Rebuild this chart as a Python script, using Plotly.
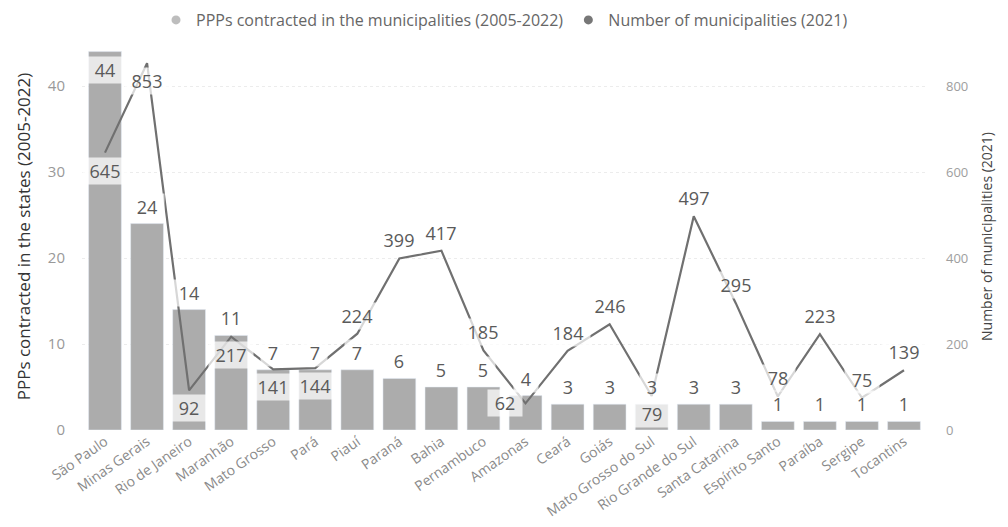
import plotly.graph_objects as go

# States ordered by number of PPPs contracted
states = [
    "São Paulo", "Minas Gerais", "Rio de Janeiro", "Maranhão", "Mato Grosso",
    "Pará", "Piauí", "Paraná", "Bahia", "Pernambuco", "Amazonas", "Ceará",
    "Goiás", "Mato Grosso do Sul", "Rio Grande do Sul", "Santa Catarina",
    "Espírito Santo", "Paraíba", "Sergipe", "Tocantins",
]
ppps = [44, 24, 14, 11, 7, 7, 7, 6, 5, 5, 4, 3, 3, 3, 3, 3, 1, 1, 1, 1]
municipalities = [645, 853, 92, 217, 141, 144, 224, 399, 417, 185, 62, 184,
                  246, 79, 497, 295, 78, 223, 75, 139]

bar_name = "PPPs contracted in the municipalities (2005-2022)"
line_name = "Number of municipalities (2021)"

# label placement for each series (kept apart from the values)
bar_label_side = ["inside"] + ["above"] * 19
line_label_side = ["below"] * 6 + ["above"] * 4 + ["left"] + ["above"] * 2 + \
                  ["below"] + ["above"] * 6

FONT = "Open Sans"
BAR_COLOR = "#acacac"
LINE_COLOR = "#707070"
LABEL_COLOR = "#5a5a5a"
LABEL_BG = "rgba(255,255,255,0.72)"

fig = go.Figure()

fig.add_trace(go.Bar(
    x=states, y=ppps, name=bar_name, marker_color=BAR_COLOR,
    showlegend=False, yaxis="y", hoverinfo="x+y",
))
fig.add_trace(go.Scatter(
    x=states, y=municipalities, name=line_name, mode="lines",
    line=dict(color=LINE_COLOR, width=2.2), yaxis="y2", showlegend=False,
))

# legend entries drawn as round dots
fig.add_trace(go.Scatter(
    x=[None], y=[None], mode="markers", name=bar_name,
    marker=dict(symbol="circle", size=9, color="#bdbdbd"),
))
fig.add_trace(go.Scatter(
    x=[None], y=[None], mode="markers", name=line_name,
    marker=dict(symbol="circle", size=9, color="#777777"),
))

annotations = []
for s, v, side in zip(states, ppps, bar_label_side):
    annotations.append(dict(
        x=s, y=v, xref="x", yref="y", text=str(v), showarrow=False,
        yshift=17 if side == "above" else -18,
        font=dict(family=FONT, size=18, color=LABEL_COLOR),
        bgcolor=LABEL_BG, borderpad=1, width=10 * len(str(v)) + 12,
    ))
for s, v, side in zip(states, municipalities, line_label_side):
    a = dict(
        x=s, y=v, xref="x", yref="y2", text=str(v), showarrow=False,
        font=dict(family=FONT, size=18, color=LABEL_COLOR),
        bgcolor=LABEL_BG, borderpad=1, width=10 * len(str(v)) + 12,
    )
    if side == "above":
        a["yshift"] = 18
    elif side == "below":
        a["yshift"] = -18
    else:
        a["xanchor"] = "right"
        a["xshift"] = -3
    annotations.append(a)

fig.update_layout(
    width=1008, height=527,
    margin=dict(l=82, r=81, t=43, b=97, autoexpand=False),
    paper_bgcolor="white", plot_bgcolor="white",
    font=dict(family=FONT, color="#666666"),
    bargap=0.22,
    showlegend=True,
    legend=dict(
        orientation="h", x=0.5, xanchor="center",
        yref="container", y=0.962, yanchor="middle",
        font=dict(family=FONT, size=16, color="#666666"),
        itemwidth=30, tracegroupgap=0,
    ),
    xaxis=dict(
        tickangle=-35, tickfont=dict(family=FONT, size=14, color="#8a8a8a"),
        showgrid=False, showline=False, zeroline=False, automargin=False,
    ),
    yaxis=dict(
        range=[0, 45], tickvals=[0, 10, 20, 30, 40],
        tickfont=dict(family=FONT, size=15, color="#999999"),
        ticklabelstandoff=16, automargin=False,
        showgrid=True, gridcolor="#ececec", griddash="dot", gridwidth=1,
        zeroline=False, showline=False,
        title=dict(text="PPPs contracted in the states (2005-2022)",
                   font=dict(family=FONT, size=17, color="#333333"),
                   standoff=12),
    ),
    yaxis2=dict(
        range=[0, 900], tickvals=[0, 200, 400, 600, 800],
        overlaying="y", side="right",
        tickfont=dict(family=FONT, size=13, color="#9e9e9e"),
        ticklabelstandoff=18, automargin=False,
        showgrid=False, zeroline=False, showline=False,
        title=dict(text="Number of municipalities (2021)",
                   font=dict(family=FONT, size=14, color="#444444"),
                   standoff=14),
    ),
    annotations=annotations,
)

fig.write_html("out.html")
